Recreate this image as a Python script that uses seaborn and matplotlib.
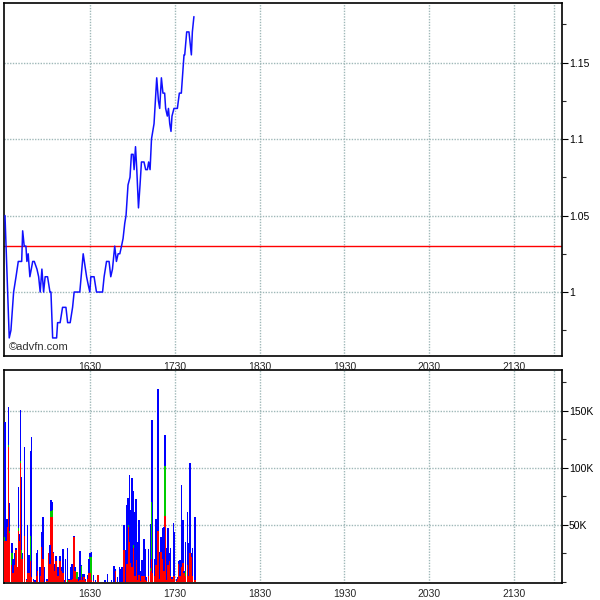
import numpy as np
import pandas as pd
import seaborn as sns
import matplotlib.pyplot as plt
from matplotlib.ticker import FixedLocator, MultipleLocator

# price trace: minutes after 15:30, price
price_t = [0, 3.0, 4.2, 6.1, 7.8, 9.4, 11.8, 12.5, 13.6, 14.8, 15.5, 16.4, 17.6, 19.6,
           20.7, 22.6, 23.8, 24.9, 26.1, 27.3, 28.4, 30.1, 31.8, 32.5, 33.7, 36.5, 37.2,
           39.0, 40.7, 43.1, 44.3, 46.1, 47.8, 48.9, 52.9, 55.3, 57.7, 58.8, 60.0, 60.7,
           63.0, 64.7, 69.0, 70.1, 71.8, 73.6, 74.8, 76.0, 77.6, 78.8, 80.0, 81.2, 82.4,
           83.5, 84.7, 85.6, 87.0, 88.4, 89.4, 90.6, 91.3, 92.3, 93.2, 94.4, 95.5, 96.5,
           98.3, 99.5, 100.7, 101.6, 102.6, 103.6, 105.4, 107.3, 108.5, 109.4, 110.6,
           111.7, 112.9, 113.6, 114.8, 115.6, 116.5, 117.4, 118.1, 119.5, 121.9, 123.3,
           124.7, 126.6, 127.1, 128.5, 130.1, 131.8, 132.5, 133.6]
price = [1.05, 0.97, 0.975, 1.00, 1.01, 1.02, 1.02, 1.04, 1.03, 1.03, 1.02, 1.025, 1.01,
         1.02, 1.02, 1.015, 1.01, 1.00, 1.015, 1.00, 1.01, 1.01, 1.00, 1.00, 0.97, 0.97,
         0.98, 0.98, 0.99, 0.99, 0.98, 0.98, 0.99, 1.00, 1.00, 1.025, 1.01, 1.005, 1.00,
         1.01, 1.01, 1.00, 1.00, 1.01, 1.02, 1.02, 1.01, 1.015, 1.03, 1.02, 1.025, 1.025,
         1.03, 1.035, 1.045, 1.05, 1.07, 1.075, 1.09, 1.09, 1.08, 1.095, 1.08, 1.055,
         1.07, 1.085, 1.085, 1.08, 1.08, 1.085, 1.08, 1.10, 1.11, 1.14, 1.125, 1.12,
         1.14, 1.13, 1.13, 1.12, 1.115, 1.12, 1.11, 1.105, 1.115, 1.12, 1.12, 1.13, 1.13,
         1.155, 1.155, 1.17, 1.17, 1.155, 1.17, 1.18]
prev_close = 1.03

# volume bars (thousands): minutes after 15:30, total, red part, green part
vol_t = [0.0, 0.7, 1.4, 2.4, 3.1, 4.9, 5.6, 6.6, 7.8, 8.5, 9.4, 10.1, 10.8, 11.8, 12.5,
         13.6, 15.1, 15.8, 16.9, 18.1, 18.8, 20.0, 21.2, 22.4, 23.1, 24.2, 24.9, 25.9,
         26.8, 28.0, 29.6, 30.8, 31.8, 32.5, 33.7, 34.4, 35.1, 36.0, 37.4, 38.8, 40.0,
         40.9, 41.9, 42.8, 44.0, 45.2, 46.6, 47.3, 48.7, 49.4, 50.8, 51.8, 52.9, 53.9,
         54.8, 56.0, 57.0, 58.4, 59.3, 60.2, 61.2, 62.4, 64.2, 65.9, 70.6, 72.5, 75.3,
         77.2, 77.9, 79.5, 81.0, 81.9, 82.8, 84.2, 85.2, 86.4, 87.1, 88.0, 88.9, 89.9,
         90.8, 91.8, 92.7, 93.9, 94.8, 96.0, 96.9, 98.4, 99.3, 100.2, 101.4, 102.8,
         103.5, 104.5, 105.7, 106.8, 108.2, 109.4, 110.4, 111.5, 112.5, 113.2, 114.1,
         115.3, 116.5, 117.2, 118.1, 119.1, 120.0, 121.2, 122.1, 123.1, 123.8, 124.9,
         125.9, 126.6, 127.8, 129.0, 129.6, 130.8, 131.8, 132.7, 134.3]
vol_total = [140, 51, 55, 153, 69, 34, 20, 25, 30, 13, 83, 42, 151, 92, 25, 118, 3, 50, 24,
             115, 127, 3, 2, 25, 28, 9, 13, 44, 57, 13, 3, 25, 32, 72, 70, 26, 16, 23, 13,
             23, 13, 29, 1.5, 20, 30, 3, 13, 16, 40, 13, 9, 4, 27, 15, 7, 7, 3, 6, 20, 25,
             26, 6, 1.5, 6, 1.5, 7, 1.5, 14, 11, 4, 13, 11, 13, 50, 28, 67, 74, 94, 63, 91,
             80, 61, 73, 35, 54, 10, 19, 38, 29, 4, 29, 51, 142, 142, 20, 55, 169, 26, 39,
             47, 48, 129, 30, 47, 25, 30, 4, 52, 44, 3, 4, 18, 19, 85, 54, 10, 35, 61, 34,
             104, 25, 30, 57]
vol_red = [36, 36, 48, 118, 43, 15, 8, 15, 28, 13, 45, 36, 104, 20, 20, 40, 2, 8, 8, 18, 4,
           1, 0, 5, 10, 0, 5, 31, 20, 0, 1, 25, 16, 57, 57, 25, 10, 18, 5, 18, 10, 8, 0,
           2, 0, 2, 2, 3, 39, 10, 3, 1, 2, 4, 2, 4, 1, 3, 8, 8, 2, 1, 0, 6, 0, 0, 0, 0, 10,
           0, 0, 0, 0, 28, 0, 16, 48, 35, 17, 13, 30, 5, 19, 2, 6, 1, 5, 5, 2, 1, 5, 10, 20,
           8, 5, 15, 45, 3, 26, 20, 10, 58, 2, 15, 18, 5, 3, 5, 5, 1, 3, 16, 5, 13, 17, 8,
           5, 15, 5, 25, 22, 5, 2]
vol_green = [3, 0, 0, 2, 2, 10, 0, 0, 0, 0, 2, 0, 2, 8, 0, 0, 0, 0, 0, 22, 0, 0, 0, 0, 0,
             0, 0, 0, 0, 0, 0, 0, 0, 5, 6, 0, 0, 0, 0, 0, 0, 0, 0, 0, 2, 0, 0, 0, 0, 0, 6,
             0, 0, 10, 0, 0, 0, 0, 0, 14, 20, 0, 0, 0, 0, 0, 0, 0, 0, 0, 0, 0, 0, 0, 0, 0,
             2, 0, 0, 0, 2, 0, 0, 0, 0, 0, 0, 0, 0, 0, 0, 2, 50, 0, 0, 0, 0, 0, 0, 0, 0,
             44, 0, 0, 0, 0, 0, 0, 0, 0, 0, 0, 0, 0, 0, 0, 5, 0, 0, 0, 0, 0, 0]

tick_min = [60, 120, 180, 240, 300, 360]
tick_labels = ['1630', '1730', '1830', '1930', '2030', '2130']
price_ticks = [1.0, 1.05, 1.1, 1.15]
price_labels = ['1', '1.05', '1.1', '1.15']
vol_ticks = [50, 100, 150]
vol_labels = ['50K', '100K', '150K']

sns.set_style('white')
plt.rcParams['font.family'] = ['Liberation Sans', 'DejaVu Sans']

grid_kw = dict(color='#9fb8b8', linestyle=(0, (1, 1)), linewidth=1.0)

fig = plt.figure(figsize=(6, 6), dpi=100)
ax1 = fig.add_axes([4 / 600, 1 - 356 / 600, 558 / 600, 353 / 600])
ax2 = fig.add_axes([4 / 600, 1 - 583 / 600, 558 / 600, 213 / 600])

df = pd.DataFrame({'t': price_t, 'price': price})
sns.lineplot(data=df, x='t', y='price', ax=ax1, color='#1010ff', linewidth=1.1,
             zorder=3)
ax1.axhline(prev_close, color='#ff0000', linewidth=1.0, zorder=2)
ax1.set_ylim(0.9582, 1.1889)

vt = np.array(vol_t)
red = np.array(vol_red, dtype=float)
green = np.array(vol_green, dtype=float)
blue = np.array(vol_total, dtype=float) - red - green
bar_kw = dict(width=1.0, linewidth=0, zorder=3, antialiased=False)
ax2.bar(vt, red, color='#ff0000', **bar_kw)
ax2.bar(vt, green, bottom=red, color='#00cc00', **bar_kw)
ax2.bar(vt, blue, bottom=red + green, color='#0000ff', **bar_kw)
ax2.set_ylim(-0.9, 185.7)

for ax, yt, yl, minor in [(ax1, price_ticks, price_labels, 0.025),
                          (ax2, vol_ticks, vol_labels, 25)]:
    ax.set_xlim(-0.7, 393.9)
    ax.set_xlabel('')
    ax.set_ylabel('')
    ax.xaxis.set_major_locator(FixedLocator(tick_min))
    ax.set_xticklabels(tick_labels)
    ax.yaxis.set_major_locator(FixedLocator(yt))
    ax.set_yticklabels(yl)
    ax.yaxis.set_minor_locator(MultipleLocator(minor))
    ax.yaxis.tick_right()
    ax.tick_params(axis='y', which='major', direction='out', length=4, width=0.8,
                   labelsize=7.5, pad=1, colors='black')
    ax.tick_params(axis='y', which='minor', direction='out', length=3, width=0.8,
                   right=True, left=False)
    ax.tick_params(axis='x', direction='out', length=3, width=0.8, labelsize=7.5,
                   pad=1)
    ax.grid(True, axis='both', which='major', **grid_kw)
    ax.axvline(388.2, zorder=0, **grid_kw)
    for s in ax.spines.values():
        s.set_visible(True)
        s.set_color('black')
        s.set_linewidth(1.2)

ax1.text(0.008, 0.012, '\u00a9advfn.com', transform=ax1.transAxes, fontsize=8,
         color='#333333', ha='left', va='bottom')

fig.savefig('out.png', dpi=100)
plt.close(fig)
